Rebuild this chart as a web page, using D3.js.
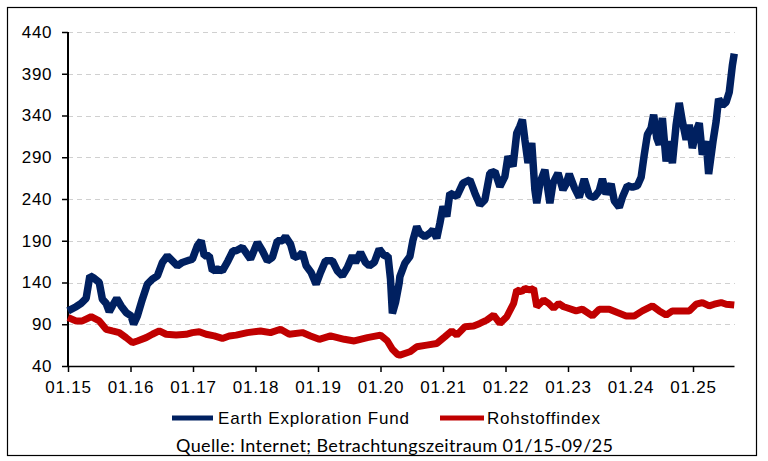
<!DOCTYPE html>
<html>
<head>
<meta charset="utf-8">
<script src="https://cdn.jsdelivr.net/npm/d3@7"></script>
<style>
    body { margin: 0; background: #fff; }
    svg { display: block; }
</style>
</head>
<body>
<svg id="chart"></svg>
<script>
// DATA (time as decimal years)
var fundYears = [2015.00, 2015.13, 2015.21, 2015.29, 2015.35, 2015.42, 2015.50, 2015.55, 2015.61, 2015.66,
    2015.71, 2015.78, 2015.85, 2015.93, 2016.01, 2016.05, 2016.11, 2016.19, 2016.27, 2016.35,
    2016.43, 2016.51, 2016.59, 2016.67, 2016.75, 2016.83, 2016.91, 2016.99, 2017.07, 2017.13,
    2017.18, 2017.26, 2017.31, 2017.39, 2017.47, 2017.56, 2017.64, 2017.69,
    2017.79, 2017.92, 2018.03, 2018.11, 2018.19, 2018.27, 2018.35, 2018.43, 2018.48, 2018.56,
    2018.62, 2018.70, 2018.75, 2018.81, 2018.89, 2018.97, 2019.04, 2019.12, 2019.23, 2019.31,
    2019.39, 2019.47, 2019.55, 2019.60, 2019.68, 2019.76, 2019.82, 2019.90, 2019.98, 2020.06,
    2020.12, 2020.16, 2020.19, 2020.24, 2020.30,
    2020.31, 2020.39, 2020.47, 2020.52, 2020.58, 2020.63, 2020.71, 2020.79, 2020.84, 2020.90,
    2020.95, 2021.00, 2021.06, 2021.11, 2021.22, 2021.32, 2021.43, 2021.51, 2021.59, 2021.67,
    2021.75, 2021.83, 2021.91, 2021.99, 2022.04, 2022.12, 2022.18, 2022.23, 2022.27, 2022.31,
    2022.36, 2022.42, 2022.47, 2022.50, 2022.55, 2022.63, 2022.71, 2022.76, 2022.84, 2022.92,
    2022.97, 2023.02, 2023.10, 2023.18, 2023.26, 2023.34, 2023.42, 2023.50, 2023.55, 2023.61,
    2023.69, 2023.74, 2023.82, 2023.87, 2023.95, 2024.03, 2024.11, 2024.17, 2024.22, 2024.27,
    2024.33, 2024.37, 2024.42, 2024.46, 2024.51, 2024.57, 2024.62, 2024.67, 2024.73, 2024.78,
    2024.83, 2024.89, 2024.94, 2024.99, 2025.05, 2025.10, 2025.15, 2025.21, 2025.25, 2025.32,
    2025.37, 2025.41, 2025.47, 2025.53, 2025.58, 2025.63, 2025.66];
var fundValues = [106, 111, 115, 121, 148, 145, 140, 120, 115, 105,
    112, 121, 112, 104, 100, 90, 100, 120, 138, 144,
    148, 164, 172, 166, 160, 164, 166, 168, 184, 190,
    172, 172, 154, 156, 154, 166, 178, 178,
    182, 168, 188, 178, 166, 170, 190, 190, 195, 186,
    170, 172, 176, 160, 152, 138, 152, 166, 166, 154,
    148, 158, 172, 164, 176, 164, 160, 164, 180, 172,
    172, 144, 103, 116, 140,
    147, 163, 171, 191, 207, 199, 195, 199, 203, 193,
    211, 231, 219, 247, 243, 259, 263, 247, 233, 239,
    271, 273, 255, 267, 291, 279, 319, 327, 335, 311,
    283, 307, 251, 235, 259, 275, 235, 259, 271, 251,
    258, 270, 254, 242, 264, 244, 242, 250, 264, 246,
    258, 238, 230, 242, 256, 254, 256, 266, 293, 317,
    325, 341, 313, 305, 337, 285, 309, 283, 329, 355,
    333, 311, 329, 301, 321, 331, 293, 309, 270, 309,
    333, 360, 352, 356, 368, 400, 414];

var indexYears = [2015.00, 2015.13, 2015.23, 2015.37, 2015.50, 2015.61, 2015.71, 2015.82, 2015.93, 2016.03,
    2016.11, 2016.25, 2016.35, 2016.46, 2016.57, 2016.73, 2016.89, 2016.99, 2017.10, 2017.21,
    2017.34, 2017.47, 2017.58, 2017.69,
    2017.87, 2018.08, 2018.24, 2018.40, 2018.54, 2018.75, 2018.88, 2019.02, 2019.20, 2019.42,
    2019.58, 2019.79, 2020.00, 2020.11, 2020.19, 2020.27,
    2020.31, 2020.47, 2020.58, 2020.74, 2020.90, 2021.03, 2021.14, 2021.22, 2021.35, 2021.49,
    2021.59, 2021.70, 2021.81, 2021.91, 2022.02, 2022.13, 2022.18, 2022.26, 2022.31, 2022.39,
    2022.45, 2022.50, 2022.61, 2022.69, 2022.77, 2022.85, 2022.93,
    2022.97, 2023.13, 2023.23, 2023.39, 2023.50, 2023.66, 2023.79, 2023.93, 2024.06, 2024.19,
    2024.35, 2024.46, 2024.57, 2024.67, 2024.81, 2024.94, 2025.05, 2025.15, 2025.26, 2025.34,
    2025.45, 2025.53, 2025.66];
var indexValues = [98, 94, 94, 99, 94, 84, 82, 80, 74, 68,
    70, 74, 78, 82, 78, 77, 78, 80, 81, 78,
    76, 73, 76, 77,
    80, 82, 80, 84, 78, 80, 76, 72, 76, 72,
    70, 74, 77, 70, 60, 54,
    53, 57, 63, 65, 67, 75, 82, 77, 87, 88,
    91, 95, 101, 91, 99, 115, 131, 129, 133, 131,
    133, 111, 119, 115, 109, 115, 111,
    110, 106, 108, 100, 108, 108, 104, 100, 100, 106,
    112, 106, 101, 106, 106, 106, 114, 116, 112, 114,
    116, 114, 113];

var yTicks = [40, 90, 140, 190, 240, 290, 340, 390, 440];
var xTicks = [2015, 2016, 2017, 2018, 2019, 2020, 2021, 2022, 2023, 2024, 2025];
var seriesNames = ["Earth Exploration Fund", "Rohstoffindex"];
var sourceText = "Quelle: Internet; Betrachtungszeitraum 01/15-09/25";

// MAIN
var width = 768, height = 461;
var svg = d3.select("#chart").attr("width", width).attr("height", height);

var x = d3.scaleLinear().domain([2015, 2025.656]).range([68, 734]);
var y = d3.scaleLinear().domain([40, 440]).range([366, 32]);

// outer frame
svg.append("rect")
    .attr("x", 7.5).attr("y", 7.5)
    .attr("width", 749).attr("height", 448)
    .attr("fill", "none").attr("stroke", "#000").attr("stroke-width", 1.2);

// grid
svg.append("g")
    .selectAll("line")
    .data(yTicks.slice(1))
    .enter().append("line")
    .attr("x1", 68).attr("x2", 735)
    .attr("y1", function (d) { return Math.round(y(d)) + 0.5; })
    .attr("y2", function (d) { return Math.round(y(d)) + 0.5; })
    .attr("stroke", "#d0d0d0")
    .attr("stroke-width", 1)
    .attr("stroke-dasharray", "5,4");

// y axis
var yAxis = svg.append("g")
    .attr("transform", "translate(68,0)")
    .call(d3.axisLeft(y).tickValues(yTicks).tickSize(6).tickPadding(10).tickFormat(d3.format("d")));
yAxis.select(".domain").attr("stroke", "#000").attr("stroke-width", 2).attr("d", "M0,32V366");
yAxis.selectAll(".tick line").attr("stroke", "#000").attr("stroke-width", 1.5);
yAxis.selectAll("text")
    .attr("font-family", "'Liberation Sans', Arial, sans-serif")
    .attr("font-size", "17px")
    .attr("letter-spacing", "0.6px")
    .attr("fill", "#000");

// x axis
var xAxis = svg.append("g")
    .attr("transform", "translate(0,366)")
    .call(d3.axisBottom(x).tickValues(xTicks).tickSize(6).tickPadding(9).tickSizeOuter(0)
        .tickFormat(function (d) { return "01." + String(d).slice(2); }));
xAxis.select(".domain").attr("stroke", "#000").attr("stroke-width", 1.5);
xAxis.selectAll(".tick line").attr("stroke", "#000").attr("stroke-width", 1.5);
xAxis.selectAll("text")
    .attr("font-family", "'Liberation Sans', Arial, sans-serif")
    .attr("font-size", "17px")
    .attr("letter-spacing", "0.8px")
    .attr("fill", "#000");

// lines
var line = d3.line()
    .x(function (d) { return x(d[0]); })
    .y(function (d) { return y(d[1]); })
    .curve(d3.curveLinear);

var fund = d3.zip(fundYears, fundValues);
var rohstoff = d3.zip(indexYears, indexValues);

svg.append("path")
    .datum(rohstoff)
    .attr("d", line)
    .attr("fill", "none")
    .attr("stroke", "#C00000")
    .attr("stroke-width", 7)
    .attr("stroke-linejoin", "bevel");

svg.append("path")
    .datum(fund)
    .attr("d", line)
    .attr("fill", "none")
    .attr("stroke", "#002060")
    .attr("stroke-width", 7.5)
    .attr("stroke-linejoin", "bevel");

// legend
var legendItems = [
    {name: seriesNames[0], color: "#002060", x1: 172, x2: 213, tx: 218, w: 191},
    {name: seriesNames[1], color: "#C00000", x1: 440, x2: 484, tx: 487, w: 113}
];
var legend = svg.append("g");
legend.selectAll("line")
    .data(legendItems)
    .enter().append("line")
    .attr("x1", function (d) { return d.x1; })
    .attr("x2", function (d) { return d.x2; })
    .attr("y1", 418).attr("y2", 418)
    .attr("stroke", function (d) { return d.color; })
    .attr("stroke-width", 5);
legend.selectAll("text")
    .data(legendItems)
    .enter().append("text")
    .attr("x", function (d) { return d.tx; })
    .attr("y", 424)
    .attr("textLength", function (d) { return d.w; })
    .attr("lengthAdjust", "spacing")
    .attr("font-family", "'Liberation Sans', Arial, sans-serif")
    .attr("font-size", "17px")
    .attr("fill", "#000")
    .text(function (d) { return d.name; });

// source
svg.append("text")
    .attr("x", 176)
    .attr("y", 452)
    .attr("textLength", 437)
    .attr("lengthAdjust", "spacing")
    .attr("font-family", "Lato, 'Open Sans', sans-serif")
    .attr("font-size", "18px")
    .attr("fill", "#000")
    .text(sourceText);
</script>
</body>
</html>
